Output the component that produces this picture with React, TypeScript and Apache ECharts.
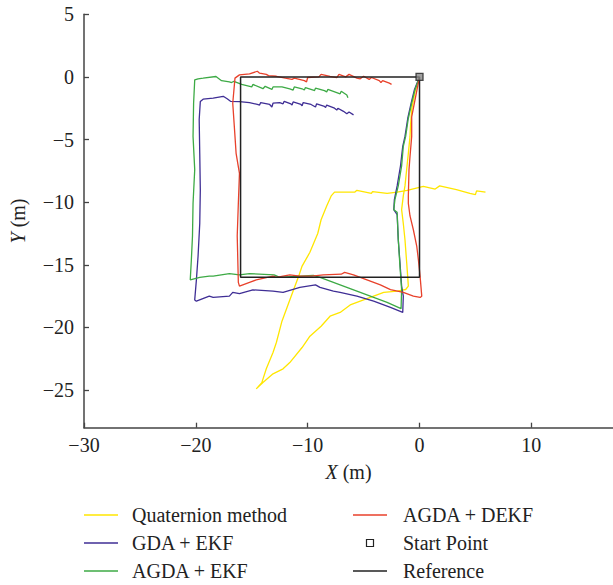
import React, { useEffect, useRef } from "react";
import * as echarts from "echarts";

const xTicks = [-30, -20, -10, 0, 10];
const yTicks = [-25, -20, -15, -10, -5, 0, 5];

const seriesNames = ["Quaternion method", "GDA + EKF", "AGDA + EKF", "AGDA + DEKF", "Start Point", "Reference"];
const seriesColors = ["#FFE600", "#3F2E95", "#3DAA45", "#E8412B", "#222222", "#222222"];

const quaternionPath = [
  [0, 0], [-0.4, -1.2], [-0.7, -2.6], [-0.8, -3.8], [-0.85, -4.75], [-1.0, -6.1], [-1.15, -7.4],
  [-1.3, -8.7], [-1.45, -9.5], [-1.6, -10.6], [-1.45, -11.7], [-1.3, -13.0], [-1.15, -14.8],
  [-1.06, -15.9], [-1.0, -16.7], [-1.24, -16.97], [-2.0, -17.1], [-3.2, -17.2], [-4.1, -17.5],
  [-5.3, -17.9], [-6.2, -18.2], [-7.1, -18.8], [-8.0, -19.1], [-8.8, -19.9], [-9.8, -20.7],
  [-10.5, -21.6], [-11.6, -22.8], [-12.2, -23.3], [-13.1, -23.7], [-14.0, -24.4], [-14.6, -24.9],
  [-14.1, -24.4], [-13.7, -23.3], [-13.1, -22.0], [-12.8, -21.2], [-12.3, -19.5], [-11.6, -17.8],
  [-10.8, -15.9], [-10.5, -15.1], [-9.8, -14.0], [-9.1, -12.5], [-8.8, -11.4], [-8.3, -10.3],
  [-7.9, -9.5], [-7.6, -9.2], [-7.1, -9.2], [-5.8, -9.2], [-5.6, -9.05], [-4.3, -9.3], [-4.2, -9.15],
  [-2.9, -9.3], [-2.0, -9.2], [-1.1, -9.06], [0.34, -8.74], [1.4, -8.95], [1.8, -8.7], [3.3, -9.0],
  [4.5, -9.3], [5.0, -9.4], [5.1, -9.1], [5.9, -9.2],
];

const gdaEkfPath = [
  [0, 0], [-0.45, -1.0], [-0.75, -2.1], [-1.05, -3.3], [-1.3, -4.75], [-1.5, -5.55], [-1.7, -7.1],
  [-2.0, -8.7], [-2.25, -9.8], [-2.3, -10.6], [-2.0, -11.0], [-1.9, -13.0], [-1.75, -14.8],
  [-1.6, -16.7], [-1.45, -17.5], [-1.5, -18.8], [-2.6, -18.4], [-4.1, -17.9], [-5.6, -17.5],
  [-7.1, -17.2], [-7.7, -17.1], [-8.9, -16.8], [-9.3, -16.6], [-10.7, -16.8], [-12.2, -17.2],
  [-13.1, -17.1], [-14.9, -17.0], [-16.1, -17.3], [-16.7, -17.2], [-17.0, -17.5], [-18.45, -17.6],
  [-18.8, -17.5], [-19.95, -17.9], [-20.1, -17.8], [-19.95, -16.2], [-19.8, -14.3], [-19.65, -11.7],
  [-19.6, -9.0], [-19.65, -6.1], [-19.7, -3.4], [-19.6, -1.97], [-19.35, -1.78], [-18.45, -1.7],
  [-17.55, -1.55], [-17.2, -1.75], [-16.9, -1.95], [-16.1, -1.97], [-15.2, -2.05], [-14.5, -2.2],
  [-14.3, -2.25], [-14.2, -2.05], [-13.4, -2.2], [-13.2, -2.4], [-13.1, -2.1], [-12.5, -2.05],
  [-12.2, -2.15], [-12.1, -1.95], [-11.5, -2.15], [-11.4, -2.25], [-11.3, -2.0], [-10.6, -2.2],
  [-10.5, -2.3], [-10.4, -2.05], [-9.7, -2.2], [-9.3, -2.4], [-9.2, -2.15], [-8.5, -2.35],
  [-8.4, -2.45], [-8.3, -2.25], [-7.6, -2.5], [-7.4, -2.65], [-7.3, -2.5], [-6.8, -2.75],
  [-6.5, -2.95], [-6.3, -2.8], [-5.9, -3.03],
];

const agdaEkfPath = [
  [0, 0], [-0.4, -1.0], [-0.7, -2.1], [-1.0, -3.3], [-1.24, -4.75], [-1.45, -5.55], [-1.6, -7.1],
  [-1.9, -8.7], [-2.2, -9.8], [-2.3, -10.6], [-2.0, -10.8], [-1.9, -12.96], [-1.75, -15.1],
  [-1.6, -16.97], [-1.65, -18.5], [-2.9, -18.0], [-4.1, -17.6], [-5.3, -17.2], [-6.5, -16.8],
  [-7.7, -16.4], [-8.9, -16.0], [-9.5, -15.85], [-10.7, -15.9], [-12.5, -16.0], [-13.0, -15.8],
  [-15.2, -15.7], [-16.1, -15.8], [-17.0, -15.7], [-18.45, -15.9], [-18.8, -15.9], [-19.65, -16.0],
  [-20.5, -16.2], [-20.4, -14.6], [-20.3, -12.7], [-20.25, -10.1], [-20.1, -7.4], [-20.25, -4.75],
  [-20.2, -2.1], [-20.1, -0.24], [-19.8, -0.15], [-19.35, -0.1], [-18.2, 0.03], [-17.7, -0.3],
  [-17.0, -0.4], [-16.8, -0.45], [-16.6, -0.35], [-15.9, -0.6], [-15.0, -0.8], [-14.9, -0.6],
  [-14.1, -0.9], [-14.0, -0.95], [-13.8, -0.75], [-13.3, -0.95], [-13.2, -1.0], [-13.1, -0.8],
  [-12.3, -0.8], [-11.6, -0.95], [-11.3, -1.05], [-11.2, -0.8], [-10.5, -0.95], [-10.3, -1.05],
  [-10.2, -0.85], [-9.5, -1.05], [-9.4, -1.1], [-9.3, -0.9], [-8.5, -1.1], [-8.3, -1.2],
  [-8.2, -1.0], [-7.4, -1.25], [-7.1, -1.35], [-7.0, -1.15], [-6.5, -1.45], [-6.4, -1.67],
];

const agdaDekfPath = [
  [0, 0], [-0.35, -1.6], [-0.7, -3.2], [-0.7, -4.75], [-0.85, -6.35], [-0.94, -7.4], [-1.0, -9.5],
  [-1.0, -10.1], [-0.85, -11.1], [-0.55, -12.2], [-0.25, -13.5], [-0.1, -14.6], [0.05, -15.9],
  [0.2, -17.5], [0.05, -17.6], [-0.55, -17.5], [-1.45, -17.2], [-2.6, -16.98], [-3.5, -16.6],
  [-4.7, -16.2], [-5.9, -15.8], [-6.7, -15.6], [-7.0, -15.75], [-8.6, -15.8], [-9.65, -15.9],
  [-10.7, -15.9], [-11.6, -15.8], [-12.8, -16.0], [-13.1, -15.9], [-14.6, -16.2], [-15.2, -16.4],
  [-16.1, -16.7], [-16.2, -16.4], [-16.3, -12.7], [-16.2, -10.1], [-16.1, -7.7], [-16.4, -6.1],
  [-16.5, -4.75], [-16.7, -2.1], [-16.5, -0.1], [-16.1, 0.16], [-15.2, 0.24], [-14.5, 0.45],
  [-14.3, 0.3], [-13.7, 0.2], [-13.5, 0.1], [-12.8, 0.05], [-12.0, -0.1], [-11.4, -0.2],
  [-11.2, -0.1], [-10.3, -0.3], [-10.1, -0.4], [-10.0, -0.05], [-9.0, 0.0], [-8.8, 0.2],
  [-8.0, 0.05], [-7.4, -0.05], [-7.2, 0.2], [-6.6, 0.0], [-6.3, 0.2], [-5.6, -0.1],
  [-5.3, -0.15], [-5.0, 0.05], [-4.5, -0.2], [-4.3, -0.05], [-3.6, -0.3], [-3.45, -0.45],
  [-3.3, -0.3], [-2.7, -0.5], [-2.5, -0.6],
];

const startPoint = [[0, 0]];
const referencePath = [[0, 0], [-16, 0], [-16, -16], [0, -16], [0, 0]];

const FONT = "'Liberation Serif', 'DejaVu Serif', serif";
const minus = (v: number) => String(v).replace("-", "\u2212");

export default function App() {
  const ref = useRef<HTMLDivElement>(null);
  useEffect(() => {
    if (!ref.current) return;
    const chart = echarts.init(ref.current, undefined, { renderer: "svg" });
    const paths = [quaternionPath, gdaEkfPath, agdaEkfPath, agdaDekfPath];
    const lineSeries = paths.map((p, i) => ({
      name: seriesNames[i],
      type: "line",
      data: p,
      symbol: "none",
      lineStyle: { color: seriesColors[i], width: 1.3 },
      itemStyle: { color: seriesColors[i] },
      z: 2,
    }));

    const legendRowY = [515, 543, 571];
    const legendCols = [
      { lineX: 84, lineW: 34, textX: 132 },
      { lineX: 353, lineW: 34, textX: 403 },
    ];
    const legendEls: any[] = [];
    seriesNames.forEach((name, i) => {
      const col = legendCols[Math.floor(i / 3)];
      const y = legendRowY[i % 3];
      if (name === "Start Point") {
        legendEls.push({
          type: "rect",
          shape: { x: col.lineX + 13.5, y: y - 3.5, width: 7, height: 7 },
          style: { fill: "#fff", stroke: seriesColors[i], lineWidth: 1.2 },
        });
      } else {
        legendEls.push({
          type: "line",
          shape: { x1: col.lineX, y1: y, x2: col.lineX + col.lineW, y2: y },
          style: { stroke: seriesColors[i], lineWidth: 1.4 },
        });
      }
      legendEls.push({
        type: "text",
        x: col.textX,
        y: y,
        style: {
          text: name,
          font: `20px ${FONT}`,
          fill: "#222",
          verticalAlign: "middle",
          align: "left",
        },
      });
    });

    chart.setOption({
      animation: false,
      backgroundColor: "#fff",
      grid: { left: 84, top: 14.25, right: 0, bottom: 157.3, containLabel: false },
      xAxis: {
        type: "value",
        min: -30,
        max: 17.3,
        interval: 10,
        name: "{i|X} (m)",
        nameLocation: "middle",
        nameGap: 34,
        nameTextStyle: {
          fontFamily: FONT,
          fontSize: 20,
          color: "#222",
          rich: { i: { fontStyle: "italic", fontFamily: FONT, fontSize: 20, color: "#222" } },
        },
        axisLine: { show: true, onZero: false, lineStyle: { color: "#444", width: 1.5 } },
        axisTick: { show: true, inside: true, length: 5, customValues: xTicks, lineStyle: { color: "#444", width: 1.3 } },
        axisLabel: {
          customValues: xTicks,
          formatter: minus,
          fontFamily: FONT,
          fontSize: 20,
          color: "#222",
          margin: 7,
        },
        splitLine: { show: false },
      },
      yAxis: {
        type: "value",
        min: -28,
        max: 5,
        name: "{i|Y} (m)",
        nameLocation: "middle",
        nameGap: 56,
        nameRotate: 90,
        nameTextStyle: {
          fontFamily: FONT,
          fontSize: 20,
          color: "#222",
          rich: { i: { fontStyle: "italic", fontFamily: FONT, fontSize: 20, color: "#222" } },
        },
        axisLine: { show: true, onZero: false, lineStyle: { color: "#444", width: 1.5 } },
        axisTick: { show: true, inside: true, length: 5, customValues: yTicks, lineStyle: { color: "#444", width: 1.3 } },
        axisLabel: {
          customValues: yTicks,
          formatter: minus,
          fontFamily: FONT,
          fontSize: 20,
          color: "#222",
          margin: 10,
        },
        splitLine: { show: false },
      },
      series: [
        ...lineSeries,
        {
          name: "Reference",
          type: "line",
          data: referencePath,
          symbol: "none",
          lineStyle: { color: seriesColors[5], width: 1.5 },
          z: 3,
        },
        {
          name: "Start Point",
          type: "scatter",
          data: startPoint,
          symbol: "rect",
          symbolSize: 7,
          itemStyle: { color: "#888", borderColor: seriesColors[4], borderWidth: 1.3 },
          z: 4,
        },
      ],
      graphic: { elements: legendEls },
    });
    return () => chart.dispose();
  }, []);
  return <div ref={ref} style={{ width: 613, height: 585, position: "absolute", left: 0, top: 0 }} />;
}
